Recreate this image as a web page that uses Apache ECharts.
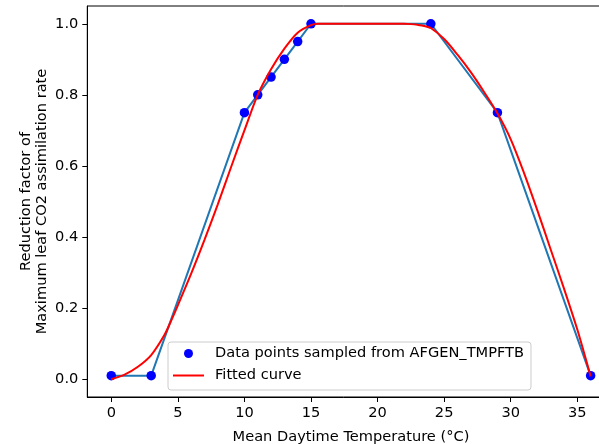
<!DOCTYPE html>
<html>
<head>
<meta charset="utf-8">
<script src="https://cdn.jsdelivr.net/npm/echarts@6/dist/echarts.min.js"></script>
<style>
html,body{margin:0;padding:0;background:#fff;}
#chart{width:599px;height:444px;}
</style>
</head>
<body>
<div id="chart"></div>
<script>
// Sampled AFGEN_TMPFTB points
const tempX = [0, 3, 10, 11, 12, 13, 14, 15, 24, 29, 36];
const tmpftb = [0.01, 0.01, 0.75, 0.8, 0.85, 0.9, 0.95, 1.0, 1.0, 0.75, 0.01];
// Fitted curve
const fitX = [0, 1, 2, 3, 4, 4.5, 5, 6, 7, 8, 9, 10, 11, 12, 13, 14, 15, 15.5, 16, 18, 20, 22, 22.5, 23, 23.5, 24, 25, 26, 27, 28, 29, 30, 31, 32, 33, 34, 35, 35.5, 36];
const fitY = [0, 0.013, 0.035, 0.068, 0.125, 0.165, 0.208, 0.297, 0.392, 0.492, 0.597, 0.70, 0.80, 0.872, 0.93, 0.975, 0.996, 1.0, 1.0, 1.0, 1.0, 1.0, 0.999, 0.997, 0.994, 0.988, 0.957, 0.913, 0.864, 0.808, 0.748, 0.675, 0.58, 0.475, 0.365, 0.255, 0.14, 0.075, 0.008];
// Tick labels
const xTicks = [0, 5, 10, 15, 20, 25, 30, 35];
const yTicks = [0.0, 0.2, 0.4, 0.6, 0.8, 1.0];

const pointsName = 'Data points sampled from AFGEN_TMPFTB';
const fitName = 'Fitted curve';
const FONT = 'DejaVu Sans';
const FS = 14.6;

const chart = echarts.init(document.getElementById('chart'), null, {renderer: 'canvas'});
const zip = (a, b) => a.map((v, i) => [v, b[i]]);

chart.setOption({
  animation: false,
  backgroundColor: '#fff',
  textStyle: {fontFamily: FONT},
  grid: {
    left: 87.3, top: 6, width: 527.3, height: 391,
    show: true, borderColor: '#000', borderWidth: 1,
    containLabel: false, outerBoundsMode: 'none'
  },
  legend: {
    left: 168, top: 342, orient: 'vertical',
    padding: [4, 7, 7, 5],
    itemGap: 7, itemWidth: 31, itemHeight: 9,
    backgroundColor: 'rgba(255,255,255,0.8)',
    borderColor: '#cccccc', borderWidth: 1, borderRadius: 3,
    textStyle: {fontFamily: FONT, fontSize: FS, color: '#000', lineHeight: 15, padding: [0, 0, 0, 6]},
    data: [
      {name: pointsName, icon: 'circle', itemStyle: {color: '#0000ff'}},
      {name: fitName, icon: 'path://M0,0 L31,0 L31,2 L0,2 Z', itemStyle: {color: '#ff0000'}}
    ]
  },
  xAxis: {
    type: 'value', min: -1.8, max: 37.8,
    name: 'Mean Daytime Temperature (°C)',
    nameLocation: 'middle', nameGap: 33, nameMoveOverlap: false,
    nameTextStyle: {fontFamily: FONT, fontSize: FS, color: '#000'},
    axisLine: {show: true, onZero: false, lineStyle: {color: '#000', width: 1}},
    axisTick: {show: true, length: 5, inside: false, customValues: xTicks, lineStyle: {color: '#000'}},
    axisLabel: {show: true, margin: 9, customValues: xTicks, fontFamily: FONT, fontSize: FS, color: '#000',
      formatter: v => String(v)},
    splitLine: {show: false}
  },
  yAxis: {
    type: 'value', min: -0.05, max: 1.05,
    name: 'Reduction factor of\nMaximum leaf CO2 assimilation rate',
    nameLocation: 'middle', nameGap: 37, nameMoveOverlap: false,
    nameTextStyle: {fontFamily: FONT, fontSize: FS, color: '#000', lineHeight: 16},
    axisLine: {show: true, onZero: false, lineStyle: {color: '#000', width: 1}},
    axisTick: {show: true, length: 5, inside: false, customValues: yTicks, lineStyle: {color: '#000'}},
    axisLabel: {show: true, margin: 9, customValues: yTicks, fontFamily: FONT, fontSize: FS, color: '#000',
      formatter: v => Number(v).toFixed(1)},
    splitLine: {show: false}
  },
  series: [
    {
      name: 'afgen line', type: 'line', data: zip(tempX, tmpftb),
      symbol: 'none', lineStyle: {color: '#1f77b4', width: 2}, itemStyle: {color: '#1f77b4'},
      z: 2, silent: true
    },
    {
      name: pointsName, type: 'scatter', data: zip(tempX, tmpftb),
      symbol: 'circle', symbolSize: 9.5, itemStyle: {color: '#0000ff', opacity: 1},
      z: 3
    },
    {
      name: fitName, type: 'line', data: zip(fitX, fitY),
      symbol: 'none', smooth: 0.3,
      lineStyle: {color: '#ff0000', width: 2}, itemStyle: {color: '#ff0000'},
      z: 4
    }
  ]
});
</script>
</body>
</html>
